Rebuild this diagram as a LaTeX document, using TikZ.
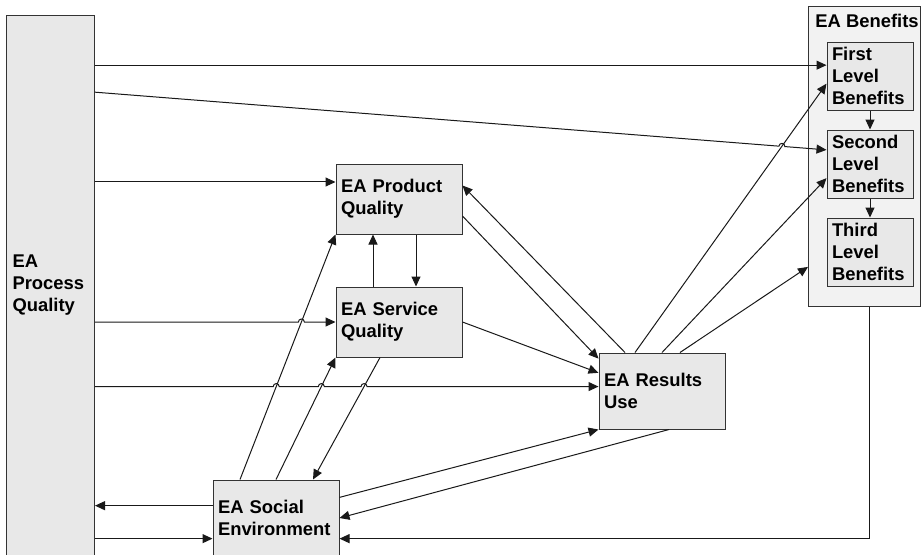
\documentclass[tikz,border=0pt]{standalone}
\usepackage{fontspec}
\setmainfont{Liberation Sans}
\usetikzlibrary{arrows.meta,intersections}
\definecolor{boxgray}{HTML}{E8E8E8}
\definecolor{bengray}{HTML}{F2F2F2}
\tikzset{
  box/.style={draw=black!80, fill=boxgray, line width=0.5pt, rectangle,
    align=left, inner xsep=2.5pt, inner ysep=0pt,
    font=\fontsize{9.2}{11.2}\selectfont\bfseries},
  arr/.style={-{Triangle[length=5pt,width=4.5pt]}, line width=0.5pt, black!90},
}
\begin{document}
\begin{tikzpicture}[x=0.5pt,y=-0.5pt]
    \useasboundingbox (0,0) rectangle (922,554);
    % Boxes
    \node[box, minimum width=43.5pt, minimum height=270pt, text width=38pt, inner xsep=3pt] (pq) at (50.5,285) {EA\\Process\\Quality};
    \node[box, fill=bengray, minimum width=56pt, minimum height=150pt] (ben) at (864.5,156) {};
    \node[anchor=base west, inner sep=0pt, font=\fontsize{9.2}{11.2}\selectfont\bfseries] (benlbl) at ([xshift=3.5pt,yshift=-11pt]ben.north west) {EA Benefits};
    \node[box, minimum width=43pt, minimum height=34pt, text width=38pt] (fst) at (870,76) {First\\Level\\Benefits};
    \node[box, minimum width=43pt, minimum height=34pt, text width=38pt] (snd) at (870,164) {Second\\Level\\Benefits};
    \node[box, minimum width=43pt, minimum height=34pt, text width=38pt] (thd) at (870,252) {Third\\Level\\Benefits};
    \node[box, minimum width=63pt, minimum height=35pt, text width=58pt] (prod) at (399,199) {EA Product\\Quality};
    \node[box, minimum width=63pt, minimum height=35pt, text width=58pt] (serv) at (399,322) {EA Service\\Quality};
    \node[box, minimum width=63pt, minimum height=38pt, text width=58pt] (res) at (662,391) {EA Results\\Use};
    \node[box, minimum width=63pt, minimum height=38pt, text width=58pt] (soc) at (276,518) {EA Social\\Environment};
    % Benefit levels
    \draw[arr] (fst.south) -- (snd.north);
    \draw[arr] (snd.south) -- (thd.north);
    % Product and service
    \draw[arr] ([xshift=-13pt]serv.north) -- ([xshift=-13pt]prod.south);
    \draw[arr] ([xshift=8.5pt]prod.south) -- ([xshift=8.5pt]serv.north);
    \draw[arr] ([xshift=-18.5pt]res.north) -- (prod.12);
    \draw[arr] (prod.345) -- (res.153);
    \draw[arr] (serv.east) -- (res.164);
    % Results use to benefits
    \draw[arr, name path=resfst] ([xshift=-13.5pt]res.north) -- (fst.190);
    \draw[arr] (res.north) -- (snd.198);
    \draw[arr] ([xshift=9pt]res.north) -- (ben.243);
    % Social environment
    \draw[arr, name path=socprod] ([xshift=-18pt]soc.north) -- (prod.south west);
    \draw[arr, name path=socserv] (soc.north) -- (serv.south west);
    \draw[arr, name path=servsoc] ([xshift=-9.5pt]serv.south) -- ([xshift=18.5pt]soc.north);
    \draw[arr] (soc.18) -- (res.south west);
    \draw[arr] ([xshift=3.5pt]res.south) -- (soc.east);
    \draw[arr] ([xshift=2.5pt]ben.south) |- (soc.342);
    \draw[arr] (soc.169) -- (pq.east |- soc.169);
    \draw[arr] (pq.east |- soc.198) -- (soc.198);
    % Process quality, with jumps over crossing lines
    \path[name path=h2] (pq.77) -- (snd.162);
    \path[name path=h4] (pq.east |- serv.west) -- (serv.west);
    \path[name path=h5] (pq.east |- res.176) -- (res.176);
    \path[name intersections={of=h2 and resfst, by=j2}];
    \path[name intersections={of=h4 and socprod, by=j4}];
    \path[name intersections={of=h5 and socprod, by=j5a}];
    \path[name intersections={of=h5 and socserv, by=j5b}];
    \path[name intersections={of=h5 and servsoc, by=j5c}];
    \draw[arr] (pq.east |- fst.166) -- (fst.166);
    \draw[arr] (pq.77) -- ([shift={(-1.5pt,0.1pt)}]j2) arc[start angle=176, end angle=-4, radius=1.5pt] -- (snd.162);
    \draw[arr] (pq.east |- prod.165) -- (prod.165);
    \draw[arr] (pq.east |- serv.west) -- ([xshift=-1.5pt]j4) arc[start angle=180, end angle=0, radius=1.5pt] -- (serv.west);
    \draw[arr] (pq.east |- res.176) -- ([xshift=-1.5pt]j5a) arc[start angle=180, end angle=0, radius=1.5pt]
        -- ([xshift=-1.5pt]j5b) arc[start angle=180, end angle=0, radius=1.5pt]
        -- ([xshift=-1.5pt]j5c) arc[start angle=180, end angle=0, radius=1.5pt] -- (res.176);
\end{tikzpicture}
\end{document}
